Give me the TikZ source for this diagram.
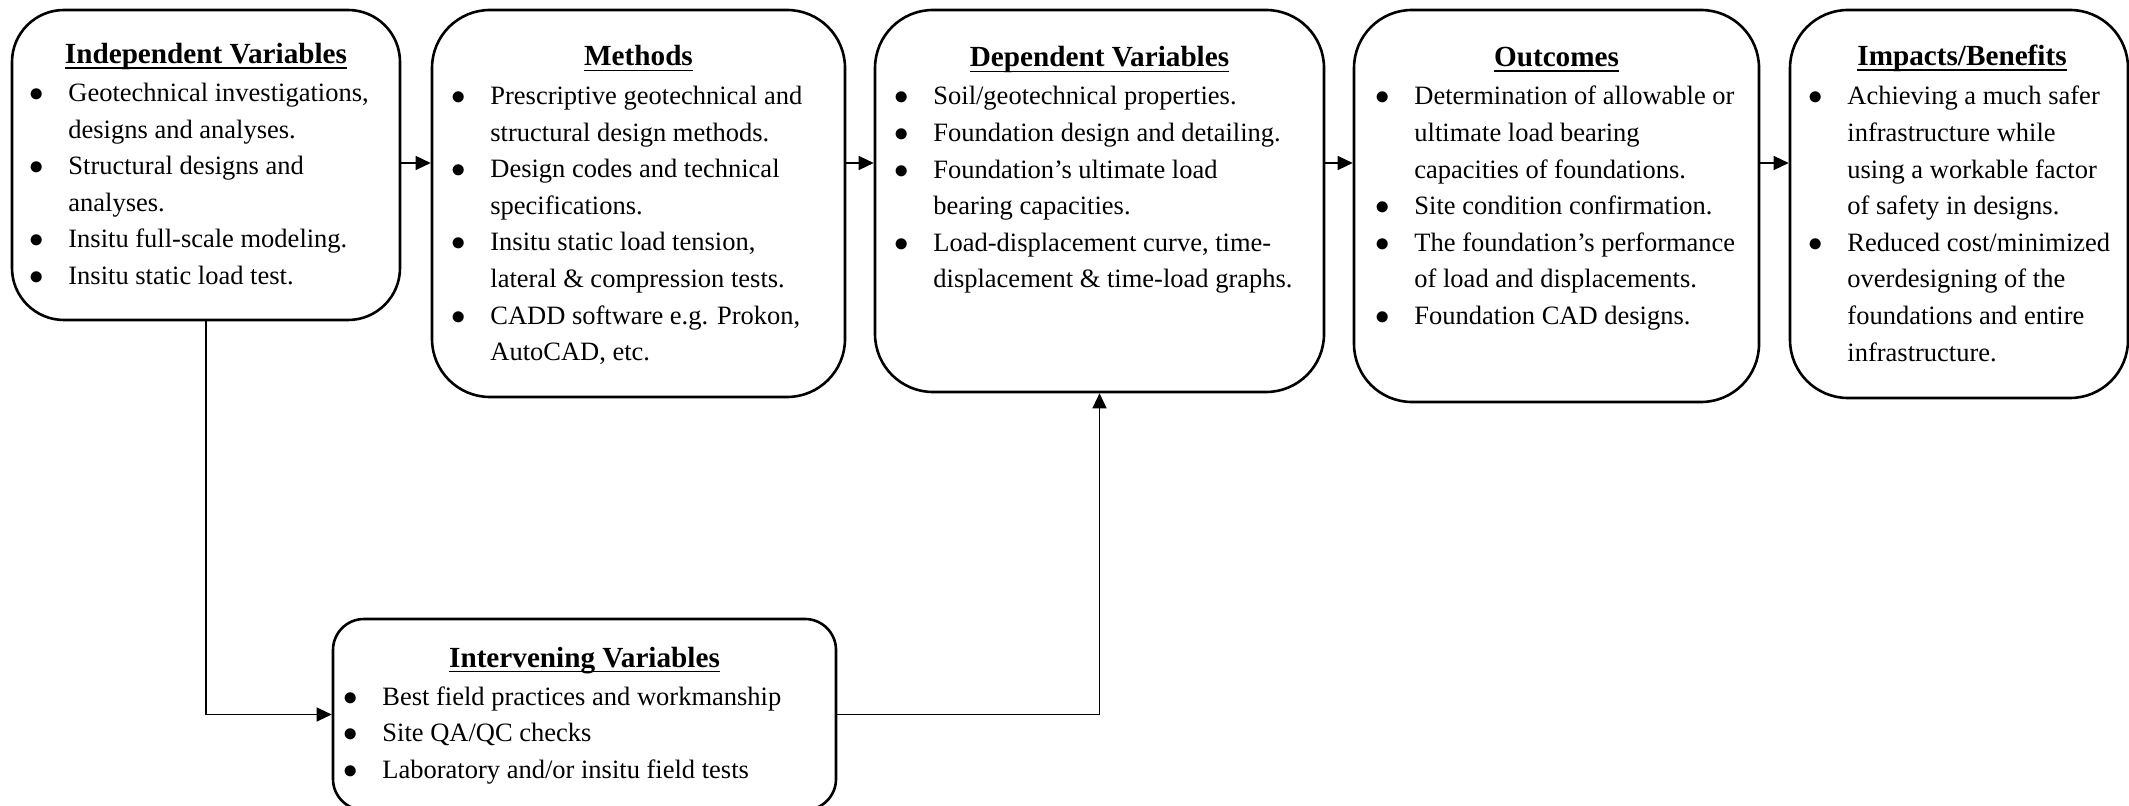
\documentclass[tikz,border=0pt]{standalone}
\usepackage{fontspec}
\setmainfont{Liberation Serif}
\usetikzlibrary{arrows.meta}
\newcommand\ulx[1]{\setbox0\hbox{#1}\rlap{\rule[-2.6pt]{\wd0}{0.8pt}}\box0}
\newcommand\bl{\makebox[20pt][l]{\makebox[8pt]{$\bullet$}}}
\begin{document}
\begin{tikzpicture}[x=0.5pt,y=-0.5pt,
  box/.style={draw, line width=1.3pt, rounded corners=#1, inner sep=0pt},
  ttl/.style={anchor=base, inner sep=0pt, font=\fontsize{14.6}{17}\selectfont\bfseries},
  body/.style={anchor=base west, inner sep=0pt, font=\fontsize{13.25}{18.3}\selectfont},
  conn/.style={line width=0.65pt, -{Triangle[length=7.5pt,width=7pt]}}]
\useasboundingbox (0,0) rectangle (2129,806);
% boxes
\node[box=26pt, minimum width=194pt, minimum height=155pt] (indep) at (206,165) {};
\node[box=29pt, minimum width=206.5pt, minimum height=193.5pt] (meth) at (638.5,203.5) {};
\node[box=29pt, minimum width=224.5pt, minimum height=191pt] (dep) at (1099.5,201) {};
\node[box=29pt, minimum width=202.5pt, minimum height=196pt] (outc) at (1556.5,206) {};
\node[box=29pt, minimum width=169pt, minimum height=194pt] (imp) at (1959,204) {};
\node[box=15.5pt, minimum width=251.5pt, minimum height=95.5pt] (interv) at (584.5,714.5) {};
% titles
\node[ttl] (t1) at (206,63.5) {\ulx{Independent Variables}};
\node[ttl] (t2) at (638.5,66) {\ulx{Methods}};
\node[ttl] (t3) at (1099.5,67) {\ulx{Dependent Variables}};
\node[ttl] (t4) at (1556.5,66.5) {\ulx{Outcomes}};
\node[ttl] (t5) at (1962,65.5) {\ulx{Impacts/Benefits}};
\node[ttl] (t6) at (584.5,667) {\ulx{Intervening Variables}};
% bodies
\node[body] (b1) at (28,101.5) {\begin{tabular}[t]{@{}l@{}l@{}}
\bl & Geotechnical investigations,\\
 & designs and analyses.\\
\bl & Structural designs and\\
 & analyses.\\
\bl & Insitu full-scale modeling.\\
\bl & Insitu static load test.
\end{tabular}};
\node[body] (b2) at (450,104.5) {\begin{tabular}[t]{@{}l@{}l@{}}
\bl & Prescriptive geotechnical and\\
 & structural design methods.\\
\bl & Design codes and technical\\
 & specifications.\\
\bl & Insitu static load tension,\\
 & lateral \& compression tests.\\
\bl & CADD software e.g. Prokon,\\
 & AutoCAD, etc.
\end{tabular}};
\node[body] (b3) at (893,105) {\begin{tabular}[t]{@{}l@{}l@{}}
\bl & Soil/geotechnical properties.\\
\bl & Foundation design and detailing.\\
\bl & Foundation’s ultimate load\\
 & bearing capacities.\\
\bl & Load-displacement curve, time-\\
 & displacement \& time-load graphs.
\end{tabular}};
\node[body] (b4) at (1374,105) {\begin{tabular}[t]{@{}l@{}l@{}}
\bl & Determination of allowable or\\
 & ultimate load bearing\\
 & capacities of foundations.\\
\bl & Site condition confirmation.\\
\bl & The foundation’s performance\\
 & of load and displacements.\\
\bl & Foundation CAD designs.
\end{tabular}};
\node[body] (b5) at (1807,105) {\begin{tabular}[t]{@{}l@{}l@{}}
\bl & Achieving a much safer\\
 & infrastructure while\\
 & using a workable factor\\
 & of safety in designs.\\
\bl & Reduced cost/minimized\\
 & overdesigning of the\\
 & foundations and entire\\
 & infrastructure.
\end{tabular}};
\node[body] (b6) at (342,705) {\begin{tabular}[t]{@{}l@{}l@{}}
\bl & Best field practices and workmanship\\
\bl & Site QA/QC checks\\
\bl & Laboratory and/or insitu field tests
\end{tabular}};
% connectors
\coordinate (ay) at (0,163);
\draw[conn] (indep.east |- ay) -- (meth.west |- ay);
\draw[conn] (meth.east |- ay) -- (dep.west |- ay);
\draw[conn] (dep.east |- ay) -- (outc.west |- ay);
\draw[conn] (outc.east |- ay) -- (imp.west |- ay);
\draw[conn] (indep.south) |- (interv.west);
\draw[conn] (interv.east) -| (dep.south);
\end{tikzpicture}
\end{document}
